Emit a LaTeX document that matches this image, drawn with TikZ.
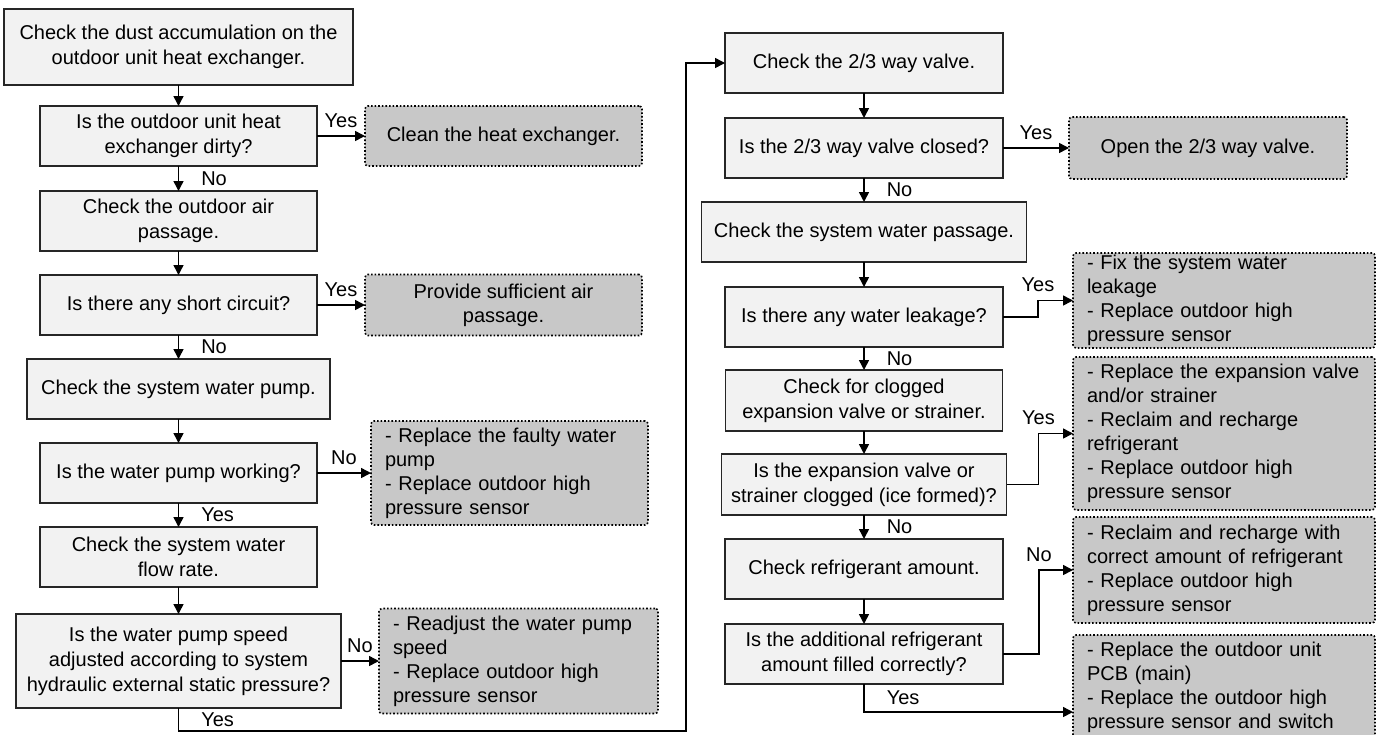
\documentclass[tikz,border=0pt]{standalone}
\usepackage{fontspec}
\setmainfont{Liberation Sans}
\usetikzlibrary{arrows.meta,positioning}
\definecolor{boxfill}{HTML}{F2F2F2}
\definecolor{boxline}{HTML}{262626}
\definecolor{actfill}{HTML}{C8C8C8}

\begin{document}
\begin{tikzpicture}[
    x=0.5pt, y=-0.5pt,
    >={Triangle[length=5pt,width=5pt]},
    font=\fontsize{10}{12.5}\selectfont,
    box/.style={
        draw=boxline,
        fill=boxfill,
        line width=0.7pt,
        align=center,
        inner sep=1pt,
        outer sep=0pt,
        minimum width=138.5pt,
        minimum height=30pt
    },
    actbox/.style={
        draw=black,
        fill=actfill,
        line width=0.8pt,
        densely dotted,
        rounded corners=1.5pt,
        font=\fontsize{10}{12}\selectfont,
        inner xsep=7pt,
        inner ysep=0pt,
        outer sep=0pt,
        minimum height=30pt
    },
    actlist/.style={actbox, align=left, text width=#1},
    conn/.style={->, line width=0.75pt},
    lbl/.style={inner sep=1pt}
]

\useasboundingbox (0,0) rectangle (1379,734);

\node[box, minimum width=174.5pt, minimum height=38pt] (dust) at (178.5,47) {Check the dust accumulation on the\\outdoor unit heat exchanger.};
\node[box, below=10.5pt of dust] (dirty) {Is the outdoor unit heat\\exchanger dirty?};
\node[box, below=12.5pt of dirty] (airchk) {Check the outdoor air\\passage.};
\node[box, below=12pt of airchk] (short) {Is there any short circuit?};
\node[box, below=12pt of short, minimum width=151.5pt] (pumpchk) {Check the system water pump.};
\node[box, below=12pt of pumpchk] (pumpok) {Is the water pump working?};
\node[box, below=12pt of pumpok] (flowchk) {Check the system water\\flow rate.};
\node[box, below=13.5pt of flowchk, minimum width=162.5pt, minimum height=47pt] (speed) {Is the water pump speed\\adjusted according to system\\hydraulic external static pressure?};

\node[actbox, right=24pt of dirty, minimum width=138.5pt, align=center] (clean) {Clean the heat exchanger.};
\node[actbox, right=24pt of short, minimum width=138.5pt, minimum height=30.5pt, align=center] (provide) {Provide sufficient air\\passage.};
\node[actlist=124.5pt, right=27pt of pumpok, minimum height=52pt] (faulty) {- Replace the faulty water\\pump\\- Replace outdoor high\\pressure sensor};
\node[actlist=125.5pt, right=19pt of speed, minimum height=52.5pt] (readjust) {- Readjust the water pump\\speed\\- Replace outdoor high\\pressure sensor};

\node[box, minimum width=139pt] (chk23) at (864,63) {Check the 2/3 way valve.};
\node[box, below=12.5pt of chk23, minimum width=139pt] (closed23) {Is the 2/3 way valve closed?};
\node[box, below=12pt of closed23, minimum width=162.5pt] (passage) {Check the system water passage.};
\node[box, below=12.5pt of passage, minimum width=139pt] (leak) {Is there any water leakage?};
\node[box, below=11.5pt of leak, minimum height=30.5pt] (clogchk) {Check for clogged\\expansion valve or strainer.};
\node[box, below=11.5pt of clogchk, minimum width=142.5pt, minimum height=30.5pt] (clogged) {Is the expansion valve or\\strainer clogged (ice formed)?};
\node[box, below=12pt of clogged, minimum width=139pt] (refchk) {Check refrigerant amount.};
\node[box, below=12.5pt of refchk, minimum width=139pt] (refok) {Is the additional refrigerant\\amount filled correctly?};

\node[actbox, right=33pt of closed23, minimum width=139pt, minimum height=31pt, align=center] (open23) {Open the 2/3 way valve.};
\node[actlist=137pt, minimum height=47.5pt] (fixleak) at (1224,300.5) {- Fix the system water\\leakage\\- Replace outdoor high\\pressure sensor};
\node[actlist=137pt, below=4.5pt of fixleak, minimum height=76.5pt] (replexp) {- Replace the expansion valve\\and/or strainer\\- Reclaim and recharge\\refrigerant\\- Replace outdoor high\\pressure sensor};
\node[actlist=137pt, below=3.5pt of replexp, minimum height=53pt] (recharge) {- Reclaim and recharge with\\correct amount of refrigerant\\- Replace outdoor high\\pressure sensor};
\node[actlist=137pt, below=6pt of recharge, minimum height=52pt] (pcb) {- Replace the outdoor unit\\PCB (main)\\- Replace the outdoor high\\pressure sensor and switch};

\coordinate (lowturn) at (686,731);

\draw[conn] (dust) -- (dirty);
\draw[conn] (dirty) -- node[lbl, above=3pt] {Yes} (clean);
\draw[conn] (dirty) -- node[lbl, right=10pt] {No} (airchk);
\draw[conn] (airchk) -- (short);
\draw[conn] (short) -- node[lbl, above=3pt] {Yes} (provide);
\draw[conn] (short) -- node[lbl, right=10pt] {No} (pumpchk);
\draw[conn] (pumpchk) -- (pumpok);
\draw[conn] (pumpok) -- node[lbl, above=3pt] {No} (faulty);
\draw[conn] (pumpok) -- node[lbl, right=10pt] {Yes} (flowchk);
\draw[conn] (flowchk) -- (speed);
\draw[conn] (speed) -- node[lbl, above=3pt] {No} (readjust);
\draw[conn] (speed) |- node[lbl, pos=0.25, right=10pt] {Yes} (lowturn) |- (chk23);

\draw[conn] (chk23) -- (closed23);
\draw[conn] (closed23) -- node[lbl, above=3pt] {Yes} (open23);
\draw[conn] (closed23) -- node[lbl, right=10pt] {No} (passage);
\draw[conn] (passage) -- (leak);
\draw[conn] (leak.east) -- ++(35,0) |- node[lbl, above=3pt] {Yes} (fixleak);
\draw[conn] (leak) -- node[lbl, right=10pt] {No} (clogchk);
\draw[conn] (clogchk) -- (clogged);
\draw[conn] (clogged.east) -- ++(32,0) |- node[lbl, above=3pt] {Yes} (replexp);
\draw[conn] (clogged) -- node[lbl, right=10pt] {No} (refchk);
\draw[conn] (refchk) -- (refok);
\draw[conn] (refok.east) -- ++(36,0) |- node[lbl, above=3pt] {No} (recharge);
\draw[conn] (refok) |- node[lbl, pos=0.25, right=10pt] {Yes} ([yshift=-12.5pt]pcb.west);

\end{tikzpicture}
\end{document}
